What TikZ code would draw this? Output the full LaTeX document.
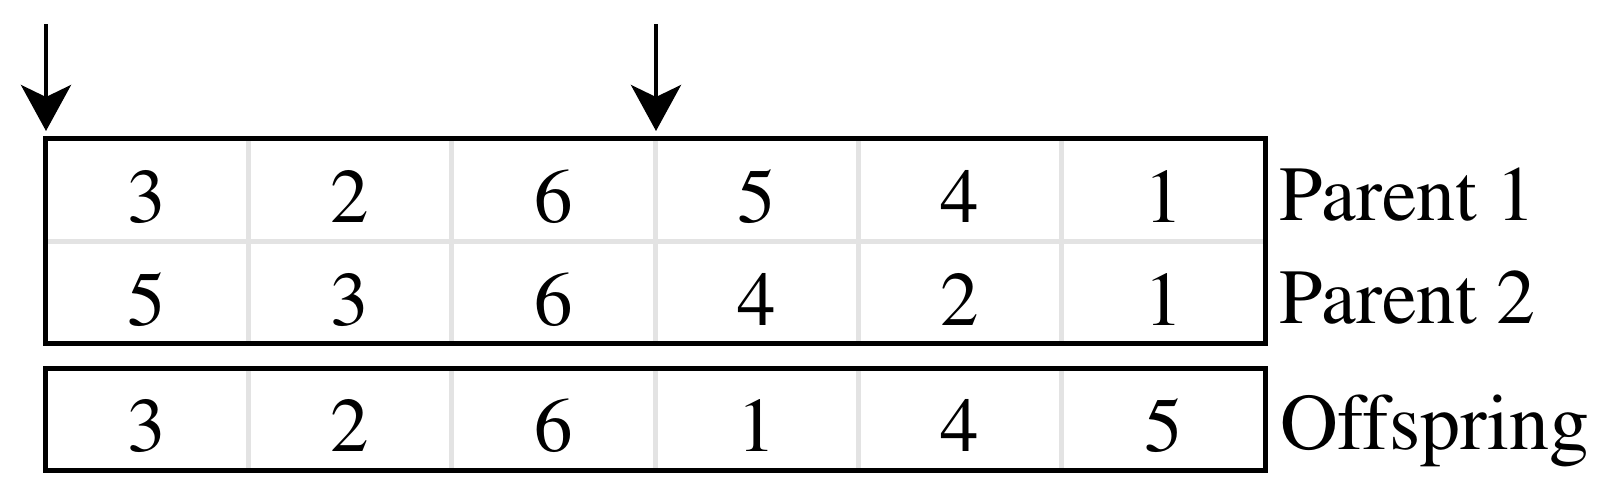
\documentclass[tikz,border=0pt]{standalone}
\usepackage[T1]{fontenc}
\usepackage{times}
\usetikzlibrary{arrows.meta}
\definecolor{gridgray}{HTML}{E3E3E3}
\begin{document}
\begin{tikzpicture}[x=1pt,y=-1pt,
  frame/.style={line width=5pt, draw=black},
  cellline/.style={line width=5pt, draw=gridgray},
  digit/.style={anchor=base, inner sep=0pt, font=\fontsize{77}{90}\selectfont},
  rowlabel/.style={anchor=base west, inner sep=0pt, font=\fontsize{78}{90}\selectfont},
  cutarrow/.style={line width=4pt, -{Stealth[length=46pt,width=50pt,inset=12pt]}}]
\useasboundingbox (0,0) rectangle (1615,498);
% grey cell lines
\foreach \i in {1,...,5} {
  \draw[cellline] ({45+203.333*\i},138) -- ({45+203.333*\i},343);
  \draw[cellline] ({45+203.333*\i},368) -- ({45+203.333*\i},470);
}
\draw[cellline] (45,241) -- (1265,241);
% frames
\draw[frame] (45,138) rectangle (1265,343);
\draw[frame] (45,368) rectangle (1265,470);
% digits
\foreach \v [count=\i] in {3,2,6,5,4,1}
  \node[digit] (pa\i) at ({45+203.333*(\i-0.5)},222) {\v};
\foreach \v [count=\i] in {5,3,6,4,2,1}
  \node[digit] (pb\i) at ({45+203.333*(\i-0.5)},325) {\v};
\foreach \v [count=\i] in {3,2,6,1,4,5}
  \node[digit] (of\i) at ({45+203.333*(\i-0.5)},451) {\v};
% labels
\node[rowlabel] (l1) at (1279,220) {Parent 1};
\node[rowlabel] (l2) at (1279,323) {Parent 2};
\node[rowlabel, font=\fontsize{80}{90}\selectfont] (l3) at (1280,449) {Offspring};
% cut arrows
\coordinate (s1) at (46,24);
\coordinate (c1) at (46,131);
\coordinate (s2) at (656,24);
\coordinate (c2) at (656,131);
\draw[cutarrow] (s1) -- (c1);
\draw[cutarrow] (s2) -- (c2);
\end{tikzpicture}
\end{document}
